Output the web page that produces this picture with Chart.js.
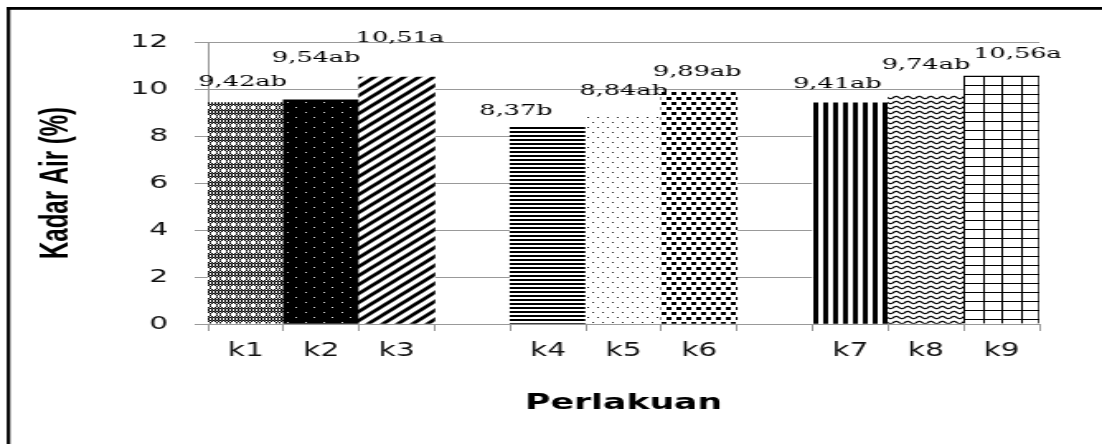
<!DOCTYPE html>
<html>
<head>
<meta charset="utf-8">
<script src="https://cdn.jsdelivr.net/npm/chart.js@4.4.1/dist/chart.umd.min.js"></script>
<style>
  html, body { margin: 0; padding: 0; background: #fff; overflow: hidden; }
  /* the figure is laid out narrow and widened horizontally, like the printed plate */
  #stage { width: 668px; height: 444px; transform: scaleX(1.6497); transform-origin: 0 0; }
  canvas { display: block; }
</style>
</head>
<body>
<div id="stage"><canvas id="c" width="668" height="444"></canvas></div>
<script>
// Kadar air per perlakuan
const treatments = ['k1', 'k2', 'k3', 'k4', 'k5', 'k6', 'k7', 'k8', 'k9'];
const kadarAir   = [9.42, 9.54, 10.51, 8.37, 8.84, 9.89, 9.41, 9.74, 10.56];
const notasi     = ['ab', 'ab', 'a', 'b', 'ab', 'ab', 'ab', 'ab', 'a'];
const yTicks     = [0, 2, 4, 6, 8, 10, 12];
const groupSize  = 3;

const STRETCH = 1102 / 668;

// label nudges in screen pixels [dx, dy] from the bar's top centre
const labelShift = [[-3, -21], [-5, -42], [3, -39], [-32, -16], [0, -25], [-2, -20], [-13, -19], [0, -30], [16, -22]];

// ---- hatch fills ----
function tile(w, h, paint) {
  const cv = document.createElement('canvas');
  cv.width = w; cv.height = h;
  const g = cv.getContext('2d');
  g.fillStyle = '#fff'; g.fillRect(0, 0, w, h);
  paint(g, w, h);
  return document.getElementById('c').getContext('2d').createPattern(cv, 'repeat');
}

const fills = [
  // k1: fine weave
  tile(6, 9, (g) => {
    g.fillStyle = '#000';
    for (let y = 0; y < 9; y++) for (let x = 0; x < 6; x++) if ((x + y) % 2 === 0) g.fillRect(x, y, 1, 1);
    g.fillStyle = '#555';
    for (let y = 0; y < 9; y++) for (let x = 0; x < 6; x++) if ((x + y) % 2 === 1 && y % 3 === 1) g.fillRect(x, y, 1, 1);
    g.fillStyle = '#fff';
    for (let x = 0; x < 6; x += 2) g.fillRect(x, 4, 1, 1);
    g.fillRect(3, 3, 1, 3);
    g.fillRect(2, 4, 3, 1);
  }),
  // k2: black with small light dots
  tile(11, 10, (g) => {
    g.fillStyle = '#000'; g.fillRect(0, 0, 11, 10);
    g.fillStyle = '#ddd';
    g.fillRect(2, 2, 1, 1); g.fillRect(7, 7, 1, 1);
  }),
  // k3: wide upward diagonals
  tile(9, 9, (g) => {
    g.strokeStyle = '#000'; g.lineWidth = 2.9; g.lineCap = 'square';
    [[0, 9, 9, 0], [-4.5, 4.5, 4.5, -4.5], [4.5, 13.5, 13.5, 4.5]].forEach(([a, b, c, d]) => {
      g.beginPath(); g.moveTo(a, b); g.lineTo(c, d); g.stroke();
    });
  }),
  // k4: horizontal lines
  tile(1, 4, (g) => { g.fillStyle = '#000'; g.fillRect(0, 0, 1, 2); }),
  // k5: sparse dots
  tile(6, 10, (g) => { g.fillStyle = '#222'; g.fillRect(1, 1, 1, 1); g.fillRect(4, 6, 1, 1); }),
  // k6: large confetti
  tile(6, 10, (g) => { g.fillStyle = '#000'; g.fillRect(0, 0, 3, 3); g.fillRect(3, 5, 3, 3); }),
  // k7: vertical lines
  tile(6, 1, (g) => { g.fillStyle = '#000'; g.fillRect(0, 0, 3, 1); }),
  // k8: wave
  tile(7, 5, (g) => {
    g.strokeStyle = '#000'; g.lineWidth = 1.15; g.beginPath();
    for (let x = -1; x <= 8; x += 0.25) {
      const y = 2.5 + 1.1 * Math.sin(x / 7 * 2 * Math.PI);
      if (x === -1) g.moveTo(x, y); else g.lineTo(x, y);
    }
    g.stroke();
  }),
  // k9: grid
  tile(23, 9, (g) => {
    g.fillStyle = '#000';
    g.fillRect(0, 0, 23, 1);
    g.fillRect(0, 0, 1, 9); g.fillRect(12, 0, 1, 9);
  })
];

// ---- category slots: three groups with an empty slot between them ----
const slotLabels = [], slotValues = [], slotFills = [], slotBorders = [], slotOf = [];
treatments.forEach((t, i) => {
  if (i > 0 && i % groupSize === 0) {
    slotLabels.push(''); slotValues.push(null); slotFills.push('rgba(0,0,0,0)'); slotBorders.push(0);
  }
  slotOf.push(slotLabels.length);
  slotLabels.push(t);
  slotValues.push(kadarAir[i]);
  slotFills.push(fills[i]);
  slotBorders.push(i === treatments.length - 1 ? 1 : 0);
});

const fmt = (v) => v.toFixed(2).replace('.', ',');

const framePlugin = {
  id: 'frame',
  beforeDraw(chart) {
    const ctx = chart.ctx;
    ctx.save();
    ctx.fillStyle = '#fff';
    ctx.fillRect(0, 0, chart.width, chart.height);
    ctx.fillStyle = '#000';
    ctx.fillRect(4.1, 7, 2.1, chart.height);
    ctx.fillRect(4.1, 7, chart.width, 2.8);
    ctx.restore();
  }
};

const alignFills = {
  id: 'alignFills',
  beforeDatasetsDraw(chart) {
    const meta = chart.getDatasetMeta(0);
    slotOf.forEach((slot, i) => {
      const bar = meta.data[slot];
      const left = Math.round(bar.x - bar.width / 2);
      fills[i].setTransform(new DOMMatrix().translate(left, Math.round(bar.y)));
    });
  }
};

const valueLabels = {
  id: 'valueLabels',
  afterDatasetsDraw(chart) {
    const ctx = chart.ctx;
    const meta = chart.getDatasetMeta(0);
    ctx.save();
    ctx.font = "15.5px 'DejaVu Serif'";
    ctx.fillStyle = '#000';
    ctx.textAlign = 'center';
    ctx.textBaseline = 'middle';
    slotOf.forEach((slot, i) => {
      const bar = meta.data[slot];
      ctx.fillText(fmt(kadarAir[i]) + notasi[i], bar.x + labelShift[i][0] / STRETCH, bar.y + labelShift[i][1]);
    });
    ctx.restore();
  }
};

new Chart(document.getElementById('c'), {
  type: 'bar',
  data: {
    labels: slotLabels,
    datasets: [{
      data: slotValues,
      backgroundColor: slotFills,
      borderColor: '#000',
      borderWidth: slotBorders,
      barPercentage: 1,
      categoryPercentage: 1
    }]
  },
  options: {
    responsive: false,
    animation: false,
    devicePixelRatio: 1,
    layout: { padding: { top: 42, right: 38, bottom: 0, left: 0 } },
    plugins: { legend: { display: false }, tooltip: { enabled: false } },
    scales: {
      x: {
        grid: { display: true, drawOnChartArea: false, drawTicks: true, tickLength: 7, color: '#999', offset: true },
        border: { display: true, color: '#999' },
        ticks: {
          font: { family: "'DejaVu Sans Condensed', 'DejaVu Sans'", size: 20 },
          color: '#111', padding: 8, maxRotation: 0, autoSkip: false
        },
        title: {
          display: true, text: 'Perlakuan', color: '#000',
          font: { family: "'DejaVu Sans'", weight: 'bold', size: 21 },
          padding: { top: 0, bottom: 28 }
        },
        afterFit(axis) { axis.height = 120; }
      },
      y: {
        min: yTicks[0],
        max: yTicks[yTicks.length - 1],
        ticks: {
          stepSize: yTicks[1] - yTicks[0],
          font: { family: "'DejaVu Sans'", size: 18 },
          color: '#111', padding: 16
        },
        grid: { color: '#999', tickLength: 8 },
        border: { color: '#999' },
        title: {
          display: true, text: 'Kadar Air (%)', color: '#000',
          font: { family: "'Liberation Sans'", weight: 'bold', size: 24 },
          padding: { top: 20, bottom: 0 }
        },
        afterFit(axis) { axis.width = 126; }
      }
    }
  },
  plugins: [framePlugin, alignFills, valueLabels]
});
</script>
</body>
</html>
